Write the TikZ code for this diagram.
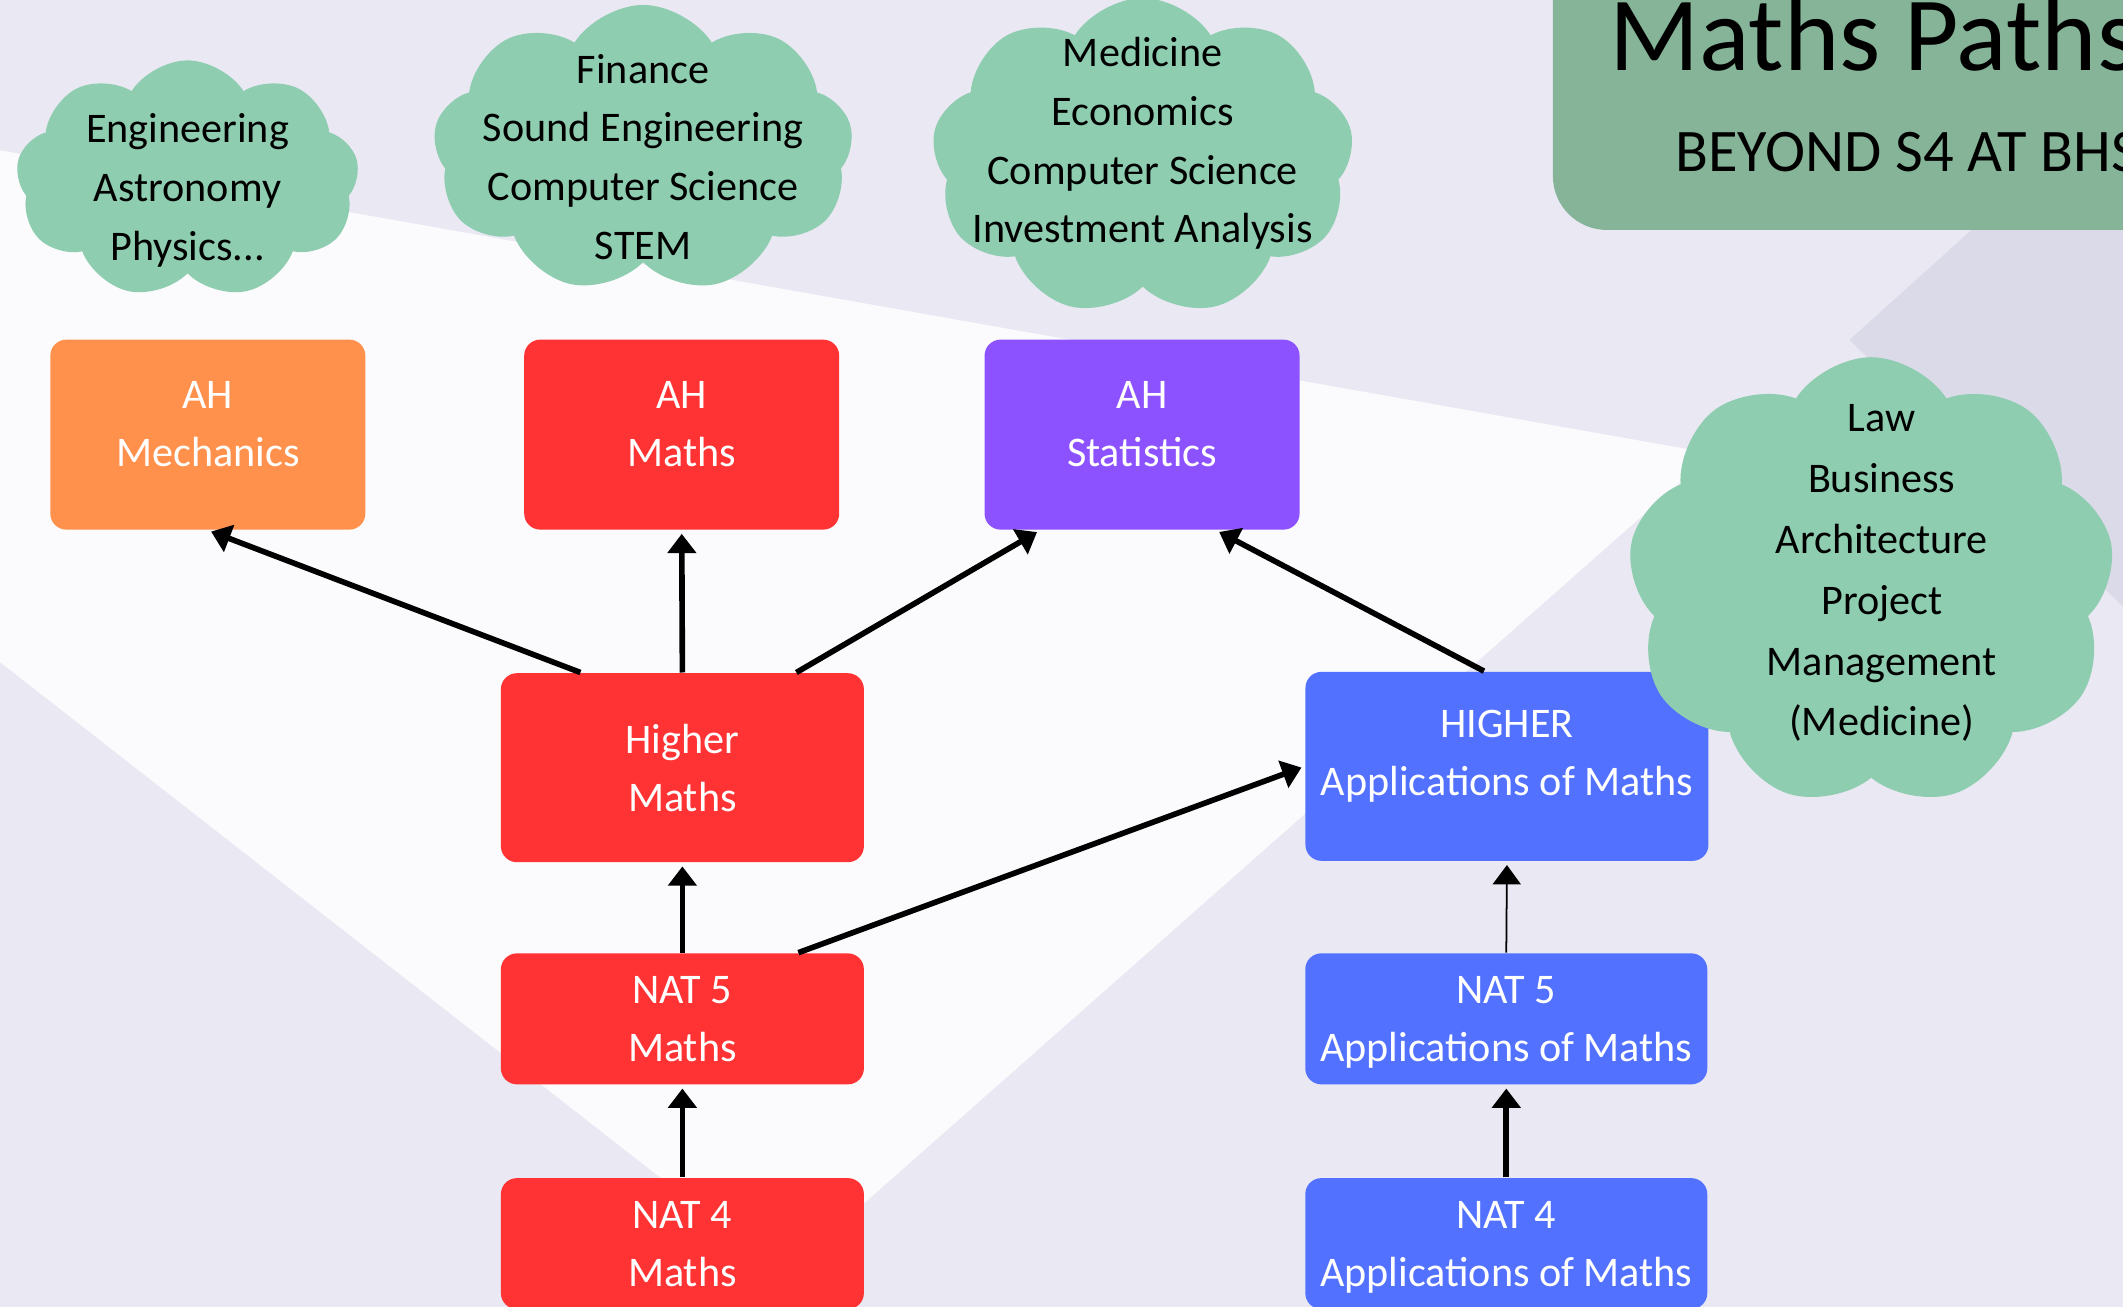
\documentclass[tikz,border=0pt]{standalone}
\usepackage{fontspec}
\setmainfont{Carlito}
\usetikzlibrary{positioning,shapes,arrows.meta}
\tikzset{>={Triangle[width=8pt,length=5.5pt]}}

\definecolor{bglav}{RGB}{233,232,243}
\definecolor{bgwhite}{RGB}{251,251,253}
\definecolor{bgdark}{RGB}{219,218,233}
\definecolor{ahorange}{RGB}{255,145,77}
\definecolor{mathsred}{RGB}{255,51,51}
\definecolor{statspurple}{RGB}{140,82,255}
\definecolor{appsblue}{RGB}{82,113,255}
\definecolor{cloudgreen}{RGB}{142,205,176}
\definecolor{titlegreen}{RGB}{133,180,152}

% text of a cloud, kept out of the cloud's size
\newcommand{\cloudtext}[2][0pt]{\makebox[0pt]{\raisebox{#1}[0pt][0pt]{\begin{tabular}{c}#2\end{tabular}}}}

\begin{document}
\begin{tikzpicture}[x=0.1354mm,y=-0.1354mm]
      \tikzstyle{course}=[rectangle,rounded corners=1.6mm,text=white,align=center,
                          inner sep=0pt,font=\fontsize{12}{16.5}\selectfont]
      \tikzstyle{ahbox}=[minimum width=31.5mm,minimum height=19mm,text depth=6.2pt]
      \tikzstyle{higherbox}=[minimum height=18.9mm]
      \tikzstyle{natbox}=[minimum height=13.1mm,text depth=0pt]
      \tikzstyle{career}=[cloud,cloud puffs=9,cloud puff arc=115,cloud ignores aspect,
                          fill=cloudgreen,inner sep=0pt,font=\fontsize{12}{16.7}\selectfont]
      \tikzstyle{link}=[->,line width=1.6pt,shorten >=1pt]

      % background
      \useasboundingbox (0,0) rectangle (1568,965);
      \clip (0,0) rectangle (1568,965);
      \fill[bglav]   (0,0) rectangle (1568,965);
      \fill[bgwhite] (0,111) -- (1265,335) -- (579,941) -- (0,489) -- cycle;
      \fill[bgdark]  (1366,251) -- (1568,69) -- (1568,448) -- cycle;

      % title
      \node[rectangle,fill=titlegreen,rounded corners=5.4mm,minimum width=74.9mm,
            minimum height=31.1mm] (panel) at (1423.5,55) {};
      \node[anchor=base west,inner sep=0pt,font=\fontsize{30}{36}\selectfont]
            (title) at (1188,52) {Maths Paths};
      \node[anchor=base west,inner sep=0pt,font=\fontsize{17.2}{21}\selectfont]
            (subtitle) at (1237,127) {BEYOND S4 AT BHS};

      % courses
      \node[course] (ahmech)  [fill=ahorange,ahbox]    at (153.5,321) {AH\\Mechanics};
      \node[course] (ahmaths) [fill=mathsred,ahbox]    at (503.5,321) {AH\\Maths};
      \node[course] (ahstats) [fill=statspurple,ahbox] at (843.5,321) {AH\\Statistics};
      \node[course] (hmaths)  [fill=mathsred,higherbox,minimum width=36.3mm] at (504,567) {Higher\\Maths};
      \node[course] (haom)    [fill=appsblue,higherbox,minimum width=40.3mm,text depth=7.6pt] at (1113,566) {HIGHER\\Applications of Maths};
      \node[course] (n5maths) [fill=mathsred,natbox,minimum width=36.3mm] at (504,752.5) {NAT 5\\Maths};
      \node[course] (n5aom)   [fill=appsblue,natbox,minimum width=40.2mm] at (1112.5,752.5) {NAT 5\\Applications of Maths};
      \node[course] (n4maths) [fill=mathsred,natbox,minimum width=36.3mm] at (504,918.5) {NAT 4\\Maths};
      \node[course] (n4aom)   [fill=appsblue,natbox,minimum width=40.2mm] at (1112.5,918.5) {NAT 4\\Applications of Maths};

      % careers
      \node[career] (engcloud) [minimum width=34.3mm,minimum height=23.8mm] at (138.5,132.5)
            {\cloudtext[-6pt]{Engineering\\Astronomy\\Physics...}};
      \node[career] (fincloud) [minimum width=42mm,minimum height=28.8mm] at (475,110)
            {\cloudtext[-6pt]{Finance\\Sound Engineering\\Computer Science\\STEM}};
      \node[career] (medcloud) [minimum width=42.2mm,minimum height=31.8mm] at (844,116)
            {\cloudtext[1pt]{Medicine\\Economics\\Computer Science\\Investment Analysis}};
      \node[career] (lawcloud) [minimum width=48.7mm,minimum height=45mm,
                                font=\fontsize{12}{17.3}\selectfont] at (1382,430)
            {\cloudtext{\hspace{6pt}Law\\\hspace{6pt}Business\\\hspace{6pt}Architecture\\\hspace{6pt}Project\\\hspace{6pt}Management\\\hspace{6pt}(Medicine)}};

      \path[link]
        ([xshift=-10.2mm]hmaths.north) edge (ahmech.south)
        (hmaths.north)                 edge (ahmaths.south)
        ([xshift=11.4mm]hmaths.north)  edge ([xshift=-10.2mm]ahstats.south)
        ([xshift=-2.3mm]haom.north)    edge ([xshift=7.4mm]ahstats.south)
        (n5maths.north)                edge (hmaths.south)
        ([xshift=11.6mm]n5maths.north) edge (haom.west)
        (n4maths.north)                edge (n5maths.south)
        (n4aom.north)                  edge (n5aom.south)
        ;
      \path[link,line width=0.5pt] (n5aom.north) edge (haom.south);
\end{tikzpicture}
\end{document}
